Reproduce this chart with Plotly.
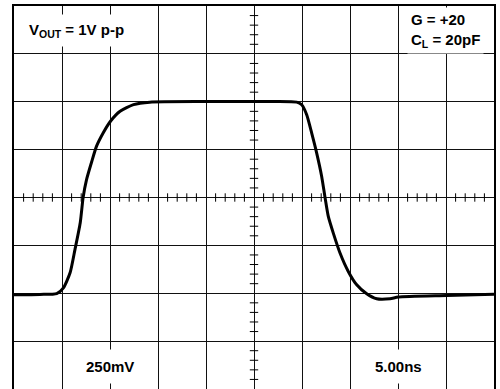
import numpy as np
import plotly.graph_objects as go

# scope settings: 5 ns/div horizontally, 250 mV/div vertically, 10 x 8 divisions
t_div = 5.0
v_div = 250.0
n_xdiv = 10
n_ydiv = 8

# trace (time in ns, voltage in mV)
t_ns = [0.0, 2.7, 4.45, 5.15, 5.85, 6.35, 6.9, 7.2, 7.55, 8.1, 8.6, 9.3, 10.05,
        11.05, 12.45, 14.15, 20.0, 26.67, 29.45, 29.97, 30.49, 31.01, 31.53,
        32.05, 32.40, 32.74, 33.26, 33.96, 34.82, 35.70, 36.74, 37.78, 39.17,
        40.03, 45.07, 50.0]
v_mv = [-508, -506, -502, -472, -392, -272, -132, 0, 92, 188, 268, 338, 398,
        450, 485, 498, 501, 501, 498, 484, 432, 336, 232,
        110, 0, -99, -186, -290, -386, -456, -503, -529, -529,
        -520, -512, -505]

labels_tl = "V<sub>OUT</sub> = 1V p-p"
labels_tr = "G = +20<br>C<sub>L</sub> = 20pF"
label_vdiv = "250mV"
label_tdiv = "5.00ns"

fig = go.Figure()

# ----------------
# CENTER CROSSHAIR MINOR TICKS
# ----------------
t_total = t_div * n_xdiv
v_half = v_div * n_ydiv / 2
minor_t = [t for t in np.arange(0, t_total + 0.01, t_div / 5) if abs(t / t_div - round(t / t_div)) > 1e-6]
minor_v = [v for v in np.arange(-v_half, v_half + 0.01, v_div / 5) if abs(v / v_div - round(v / v_div)) > 1e-6]

fig.add_trace(go.Scatter(
    x=minor_t, y=[0] * len(minor_t), mode="markers",
    marker=dict(symbol="line-ns", size=6, line=dict(color="black", width=1)),
    showlegend=False, hoverinfo="skip"
))
fig.add_trace(go.Scatter(
    x=[t_total / 2] * len(minor_v), y=minor_v, mode="markers",
    marker=dict(symbol="line-ew", size=6, line=dict(color="black", width=1)),
    showlegend=False, hoverinfo="skip"
))

# ----------------
# WAVEFORM
# ----------------
fig.add_trace(go.Scatter(
    x=t_ns, y=v_mv, mode="lines",
    line=dict(color="black", width=3, shape="spline", smoothing=0.6),
    showlegend=False
))

font = dict(family="Liberation Sans, Arial, sans-serif", size=15, color="black")

fig.add_annotation(x=6.56, y=871, text="<b>" + labels_tl + "</b>", showarrow=False,
                   bgcolor="white", borderpad=6, font=font)
fig.add_annotation(x=44.9, y=871, text="<b>" + labels_tr + "</b>", showarrow=False,
                   bgcolor="white", borderpad=3, align="left", font=font)
fig.add_annotation(x=10.0, y=-885, text="<b>" + label_vdiv + "</b>", showarrow=False,
                   bgcolor="white", borderpad=8, font=font)
fig.add_annotation(x=40.05, y=-885, text="<b>" + label_tdiv + "</b>", showarrow=False,
                   bgcolor="white", borderpad=8, font=font)

fig.update_xaxes(range=[0, t_total], dtick=t_div, tick0=0, showgrid=True,
                 gridcolor="#111", gridwidth=1, showticklabels=False, ticks="",
                 zeroline=False, showline=True, linecolor="black", linewidth=2, mirror=True)
fig.update_yaxes(range=[-v_half, v_half], dtick=v_div, tick0=0, showgrid=True,
                 gridcolor="#111", gridwidth=1, showticklabels=False, ticks="",
                 zeroline=False, showline=True, linecolor="black", linewidth=2, mirror=True)

fig.update_layout(
    width=500, height=389,
    margin=dict(l=14, r=6, t=6, b=0, pad=0),
    plot_bgcolor="white", paper_bgcolor="white",
)

# the page body has a default 8px margin; drop it so the plot sits at the window corner
fig.write_html("out.html", config={"displayModeBar": False},
               post_script="document.body.style.margin='0';")
